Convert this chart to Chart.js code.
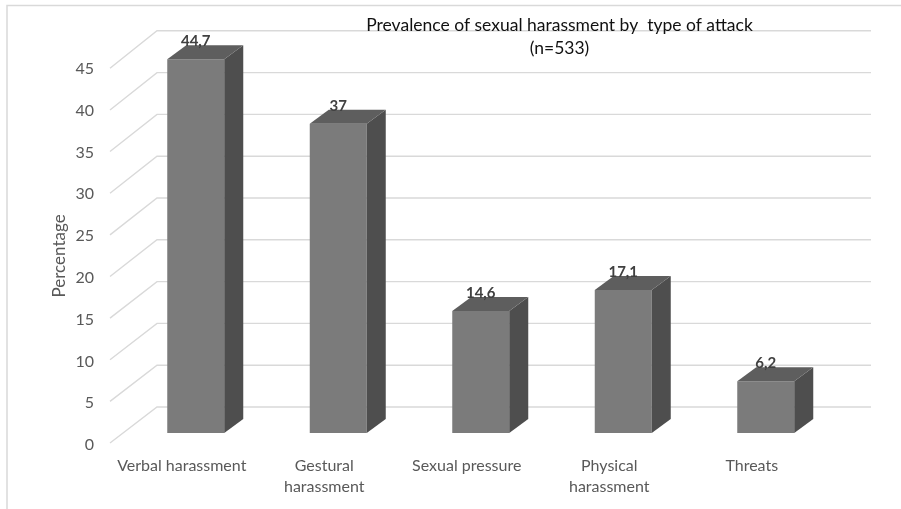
<!DOCTYPE html>
<html>
<head>
<meta charset="utf-8">
<script src="https://cdn.jsdelivr.net/npm/chart.js@4/dist/chart.umd.min.js"></script>
<style>
  html, body { margin: 0; padding: 0; background: #ffffff; }
  #wrap { position: relative; width: 901px; height: 509px; }
</style>
</head>
<body>
<div id="wrap"><canvas id="c" width="901" height="509"></canvas></div>
<script>
// Prevalence of sexual harassment, % of respondents (n=533)
const categories = [
  'Verbal harassment',
  ['Gestural', 'harassment'],
  'Sexual pressure',
  ['Physical', 'harassment'],
  'Threats'
];
const percentages = [44.7, 37, 14.6, 17.1, 6.2];
const yTicks = [0, 5, 10, 15, 20, 25, 30, 35, 40, 45];
const titleLines = ['Prevalence of sexual harassment by  type of attack', '(n=533)'];
const yAxisTitle = 'Percentage';

const FONT = 'Lato, "Open Sans", sans-serif';
const GRID = '#d9d9d9';
const FACE_FRONT = '#7b7b7b';
const FACE_SIDE = '#4e4e4e';
const FACE_TOP = '#5e5e5e';

// depth of a column and of the floor/side wall, in pixels
const BAR_DX = 19, BAR_DY = -14;
const WALL_FRONT_DX = -14.5, WALL_FRONT_DY = 10;
const WALL_BACK_DX = 32.5, WALL_BACK_DY = -26;
const WALL_RIGHT_EXTRA = 34;

const fmt = v => String(v).replace('.', ',');

const depthPlugin = {
  id: 'depth3d',
  beforeDatasetsDraw(chart) {
    const { ctx, chartArea: a, scales: { y } } = chart;
    ctx.save();
    // frame edges
    ctx.strokeStyle = GRID;
    ctx.lineWidth = 1.5;
    ctx.beginPath();
    ctx.moveTo(7, 509); ctx.lineTo(7, 5.5); ctx.lineTo(901, 5.5);
    ctx.stroke();
    // side wall + back wall gridlines
    ctx.lineWidth = 1.4;
    yTicks.forEach(v => {
      const py = y.getPixelForValue(v);
      ctx.beginPath();
      ctx.moveTo(a.left + WALL_FRONT_DX, py + WALL_FRONT_DY + (v / 45) * 1.5);
      ctx.lineTo(a.left + WALL_BACK_DX, py + WALL_BACK_DY);
      ctx.lineTo(a.right + WALL_RIGHT_EXTRA, py + WALL_BACK_DY);
      ctx.stroke();
    });
    ctx.restore();
  },
  afterDatasetsDraw(chart) {
    const { ctx } = chart;
    const meta = chart.getDatasetMeta(0);
    ctx.save();
    meta.data.forEach((bar, i) => {
      const { x, y, width, base } = bar.getProps(['x', 'y', 'width', 'base'], true);
      const l = x - width / 2, r = x + width / 2;
      // side face
      ctx.fillStyle = FACE_SIDE;
      ctx.beginPath();
      ctx.moveTo(r, y); ctx.lineTo(r + BAR_DX, y + BAR_DY);
      ctx.lineTo(r + BAR_DX, base + BAR_DY); ctx.lineTo(r, base);
      ctx.closePath(); ctx.fill();
      // top face
      ctx.fillStyle = FACE_TOP;
      ctx.beginPath();
      ctx.moveTo(l, y); ctx.lineTo(l + BAR_DX, y + BAR_DY);
      ctx.lineTo(r + BAR_DX, y + BAR_DY); ctx.lineTo(r, y);
      ctx.closePath(); ctx.fill();
    });
    // value labels
    ctx.fillStyle = '#404040';
    ctx.font = 'bold 15px ' + FONT;
    ctx.textAlign = 'center';
    ctx.textBaseline = 'middle';
    meta.data.forEach((bar, i) => {
      ctx.fillText(fmt(percentages[i]), bar.x, bar.y - 18);
    });
    ctx.restore();
  },
  afterDraw(chart) {
    const { ctx, scales: { y } } = chart;
    ctx.save();
    // chart title
    ctx.fillStyle = '#111111';
    ctx.font = '17.5px ' + FONT;
    ctx.textAlign = 'center';
    ctx.textBaseline = 'middle';
    ctx.fillText(titleLines[0], 559.5, 25);
    ctx.fillText(titleLines[1], 559.5, 48);
    // y axis title, centred on the front edge of the side wall
    const cy = (y.getPixelForValue(0) + y.getPixelForValue(45)) / 2 + 11;
    ctx.translate(59.5, cy);
    ctx.rotate(-Math.PI / 2);
    ctx.fillStyle = '#595959';
    ctx.font = '17px ' + FONT;
    ctx.fillText(yAxisTitle, 0, 0);
    ctx.restore();
  }
};

new Chart(document.getElementById('c'), {
  type: 'bar',
  data: {
    labels: categories,
    datasets: [{
      data: percentages,
      backgroundColor: FACE_FRONT,
      borderWidth: 0,
      categoryPercentage: 1,
      barPercentage: 0.4
    }]
  },
  options: {
    responsive: false,
    animation: false,
    events: [],
    layout: { padding: { left: 24.5, right: 64, top: 56.8, bottom: 16 } },
    plugins: { legend: { display: false }, tooltip: { enabled: false }, title: { display: false } },
    scales: {
      x: {
        grid: { display: false, drawTicks: false },
        border: { display: false },
        afterFit: s => { s.height = 60; },
        ticks: {
          autoSkip: false, maxRotation: 0, minRotation: 0,
          padding: 22.8, labelOffset: -14,
          color: '#595959',
          font: { family: FONT, size: 16, lineHeight: 1.275 }
        }
      },
      y: {
        min: 0, max: 45,
        grid: { display: false, drawTicks: false },
        border: { display: false },
        afterFit: s => { s.width = 100; },
        afterBuildTicks: s => { s.ticks = yTicks.map(v => ({ value: v })); },
        ticks: {
          padding: 30.5, labelOffset: 12,
          color: '#595959',
          font: { family: FONT, size: 16 }
        }
      }
    }
  },
  plugins: [depthPlugin]
});
</script>
</body>
</html>
